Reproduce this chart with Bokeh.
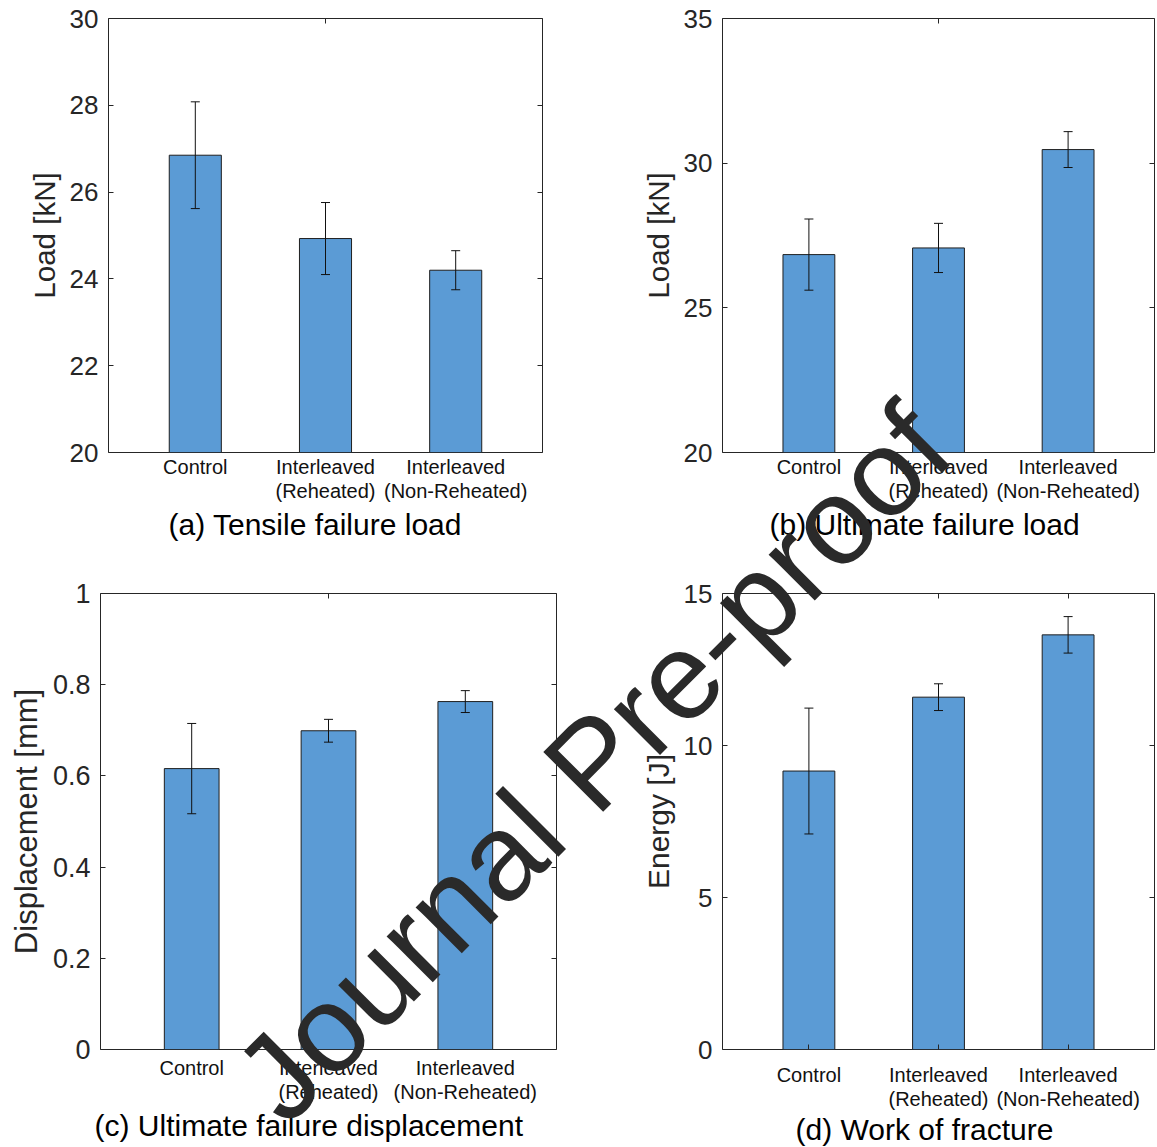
from bokeh.plotting import figure
from bokeh.models import (Range1d, FixedTicker, LinearAxis, ColumnDataSource,
                          Whisker, TeeHead, Label, Title, InlineStyleSheet)
from bokeh.layouts import column, row
from bokeh.embed import file_html
from bokeh.resources import INLINE

# ---- data -------------------------------------------------------------
categories = ["Control", "Interleaved\n(Reheated)", "Interleaved\n(Non-Reheated)"]
positions = [1, 2, 3]

tensile_load = [26.85, 24.93, 24.20]        # kN
tensile_err = [1.23, 0.83, 0.45]

ultimate_load = [26.84, 27.07, 30.47]       # kN
ultimate_err = [1.23, 0.85, 0.62]

ultimate_disp = [0.616, 0.699, 0.763]       # mm
ultimate_disp_err = [0.099, 0.025, 0.024]

work_fracture = [9.16, 11.59, 13.64]        # J
work_fracture_err = [2.07, 0.44, 0.60]

ticks_a = [20, 22, 24, 26, 28, 30]
ticks_b = [20, 25, 30, 35]
ticks_c = [0, 0.2, 0.4, 0.6, 0.8, 1]
tick_labels_c = ["0", "0.2", "0.4", "0.6", "0.8", "1"]
ticks_d = [0, 5, 10, 15]

# ---- styling ----------------------------------------------------------
FONT = "Liberation Sans"
AXIS_COLOR = "#262626"
BAR_COLOR = "#5b9bd5"
MARK_COLOR = "#2a2a2a"
PAGE_W, PAGE_H = 1157, 1147


def panel(values, errors, y_range, y_ticks, ylabel, title, *, width, height,
          left, right, top, bottom, tick_px, cat_px, label_px, cat_standoff,
          title_dx, title_standoff, top_ticks, bottom_tick_in,
          y_tick_labels=None):
    p = figure(width=width, height=height, output_backend="svg",
               toolbar_location=None, x_range=Range1d(1 / 3, 11 / 3),
               y_range=Range1d(*y_range), x_axis_type=None, y_axis_type=None,
               min_border_left=left, min_border_right=right,
               min_border_top=top, min_border_bottom=bottom)
    p.outline_line_color = AXIS_COLOR
    p.outline_line_width = 1
    p.outline_line_alpha = 1
    p.background_fill_color = "white"
    p.border_fill_color = "white"

    overrides = {}
    if y_tick_labels is not None:
        overrides = {t: s for t, s in zip(y_ticks, y_tick_labels)}

    # left value axis
    yl = LinearAxis(ticker=FixedTicker(ticks=y_ticks), axis_label=ylabel,
                    major_label_overrides=overrides)
    yl.axis_line_color = None
    yl.major_tick_in = 5
    yl.major_tick_out = 0
    yl.major_tick_line_color = AXIS_COLOR
    yl.minor_tick_line_color = None
    yl.major_label_standoff = 10
    yl.major_label_text_font = FONT
    yl.major_label_text_font_size = f"{tick_px}px"
    yl.major_label_text_color = AXIS_COLOR
    yl.axis_label_text_font = FONT
    yl.axis_label_text_font_size = f"{label_px}px"
    yl.axis_label_text_font_style = "normal"
    yl.axis_label_text_color = AXIS_COLOR
    yl.axis_label_standoff = 6
    p.add_layout(yl, "left")

    # mirrored ticks on the right
    yr = LinearAxis(ticker=FixedTicker(ticks=y_ticks),
                    major_label_overrides={t: "" for t in y_ticks})
    yr.axis_line_color = None
    yr.major_tick_in = 5
    yr.major_tick_out = 0
    yr.major_tick_line_color = AXIS_COLOR
    yr.minor_tick_line_color = None
    yr.major_label_standoff = 0
    p.add_layout(yr, "right")

    # category axis
    xb = LinearAxis(ticker=FixedTicker(ticks=positions),
                    major_label_overrides={x: c for x, c in zip(positions, categories)})
    xb.axis_line_color = None
    xb.major_tick_in = bottom_tick_in
    xb.major_tick_out = 0
    xb.major_tick_line_color = AXIS_COLOR
    xb.minor_tick_line_color = None
    xb.major_label_standoff = cat_standoff
    xb.major_label_text_font = FONT
    xb.major_label_text_font_size = f"{cat_px}px"
    xb.major_label_text_color = "#111111"
    xb.major_label_text_line_height = 1.12
    p.add_layout(xb, "below")

    xt = LinearAxis(ticker=FixedTicker(ticks=top_ticks),
                    major_label_overrides={t: "" for t in top_ticks})
    xt.axis_line_color = None
    xt.major_tick_in = 5
    xt.major_tick_out = 0
    xt.major_tick_line_color = AXIS_COLOR
    xt.minor_tick_line_color = None
    xt.major_label_standoff = 0
    p.add_layout(xt, "above")

    # bars
    src = ColumnDataSource(dict(
        x=positions, top=values,
        upper=[v + e for v, e in zip(values, errors)],
        lower=[v - e for v, e in zip(values, errors)],
    ))
    p.vbar(x="x", top="top", bottom=0, width=0.4, source=src,
           fill_color=BAR_COLOR, line_color="#1f1f1f", line_width=1)

    # error bars
    p.add_layout(Whisker(
        base="x", upper="upper", lower="lower", source=src, dimension="height",
        level="annotation", line_color="#111111", line_width=1,
        upper_head=TeeHead(size=9, line_color="#111111", line_width=1),
        lower_head=TeeHead(size=9, line_color="#111111", line_width=1),
    ))

    # sub-figure caption
    p.add_layout(Title(
        text=title, align="left", offset=title_dx, standoff=title_standoff,
        text_font=FONT, text_font_size="30px", text_font_style="normal",
        text_color="black"), "below")
    return p


pa = panel(tensile_load, tensile_err, (20, 30), ticks_a, "Load [kN]",
           "(a) Tensile failure load",
           width=577, height=560, left=108, right=35, top=18, bottom=108,
           tick_px=26, cat_px=20, label_px=29.5, cat_standoff=3,
           title_dx=60, title_standoff=0, top_ticks=[2], bottom_tick_in=0)

pb = panel(ultimate_load, ultimate_err, (20, 35), ticks_b, "Load [kN]",
           "(b) Ultimate failure load",
           width=580, height=560, left=145, right=3, top=18, bottom=108,
           tick_px=26, cat_px=20, label_px=29.5, cat_standoff=3,
           title_dx=47, title_standoff=0, top_ticks=[2], bottom_tick_in=0)

pc = panel(ultimate_disp, ultimate_disp_err, (0, 1), ticks_c, "Displacement [mm]",
           "(c) Ultimate failure displacement",
           width=577, height=587, left=100, right=21, top=32, bottom=98,
           tick_px=27, cat_px=20, label_px=31, cat_standoff=7,
           title_dx=-6, title_standoff=0, top_ticks=[2], bottom_tick_in=0,
           y_tick_labels=tick_labels_c)

pd_ = panel(work_fracture, work_fracture_err, (0, 15), ticks_d, "Energy [J]",
            "(d) Work of fracture",
            width=580, height=587, left=145, right=3, top=33, bottom=90,
            tick_px=26, cat_px=20, label_px=30, cat_standoff=14,
            title_dx=73, title_standoff=-5, top_ticks=[2, 3], bottom_tick_in=5)

# transparent sheet laid over the four panels, carrying the diagonal stamp
sheet = figure(width=PAGE_W, height=PAGE_H, output_backend="svg",
               toolbar_location=None, x_axis_type=None, y_axis_type=None,
               x_range=Range1d(0, PAGE_W), y_range=Range1d(PAGE_H, 0),
               min_border=0,
               styles={"position": "absolute", "left": "0px", "top": "0px",
                       "pointer-events": "none"},
               stylesheets=[InlineStyleSheet(css=":host { position: absolute !important; "
                                                 "left: 0px !important; top: 0px !important; "
                                                 "pointer-events: none; }")])
sheet.background_fill_color = None
sheet.border_fill_color = None
sheet.outline_line_color = None
sheet.add_layout(Label(
    x=592, y=762, text="Journal Pre-proof", angle=45, angle_units="deg",
    text_align="center", text_baseline="middle", text_font=FONT,
    text_font_size="123px", text_color=MARK_COLOR))

layout = column(row(pa, pb), row(pc, pd_), sheet)

open("out.html", "w").write(file_html(layout, INLINE))
